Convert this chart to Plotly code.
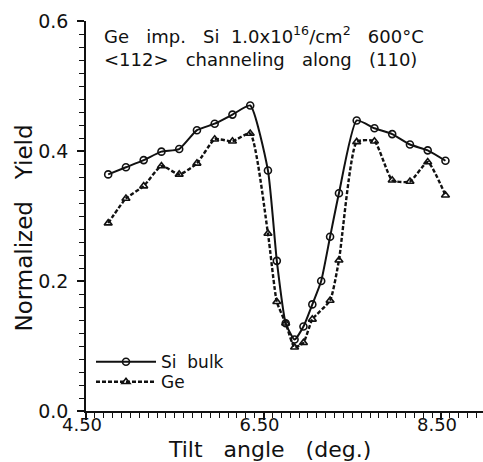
import plotly.graph_objects as go

# Tilt angles (deg.)
si_angle = [4.75, 4.95, 5.15, 5.35, 5.55, 5.75, 5.95, 6.15, 6.35,
            6.55, 6.65, 6.75, 6.85, 6.95, 7.05, 7.15, 7.25, 7.35,
            7.55, 7.75, 7.95, 8.15, 8.35, 8.55]
si_yield = [0.364, 0.375, 0.386, 0.399, 0.403, 0.432, 0.442, 0.456, 0.470,
            0.370, 0.231, 0.135, 0.110, 0.130, 0.164, 0.200, 0.268, 0.335,
            0.447, 0.435, 0.426, 0.410, 0.401, 0.385]

ge_angle = [4.75, 4.95, 5.15, 5.35, 5.55, 5.75, 5.95, 6.15, 6.35,
            6.55, 6.65, 6.75, 6.85, 6.95, 7.05, 7.25, 7.35,
            7.55, 7.75, 7.95, 8.15, 8.35, 8.55]
ge_yield = [0.289, 0.327, 0.346, 0.377, 0.364, 0.381, 0.418, 0.415, 0.427,
            0.273, 0.168, 0.135, 0.098, 0.105, 0.141, 0.170, 0.232,
            0.414, 0.415, 0.355, 0.353, 0.383, 0.332]

x_ticks = [4.5, 6.5, 8.5]
x_ticklabels = ["4.50", "6.50", "8.50"]
y_ticks = [0.0, 0.2, 0.4, 0.6]
y_ticklabels = ["0.0", "0.2", "0.4", "0.6"]

FONT = "DejaVu Sans"
INK = "#111111"

fig = go.Figure()
fig.add_trace(go.Scatter(
    x=si_angle, y=si_yield, mode="lines+markers", name="Si  bulk",
    legend="legend",
    line=dict(color=INK, width=2, shape="spline", smoothing=0.5),
    marker=dict(symbol="circle-open", size=7, color=INK, line=dict(width=1.6)),
))
fig.add_trace(go.Scatter(
    x=ge_angle, y=ge_yield, mode="lines+markers", name="Ge",
    legend="legend2",
    line=dict(color=INK, width=2.4, dash="4px,2px", shape="spline", smoothing=0.5),
    marker=dict(symbol="triangle-up-open", size=7, color=INK, line=dict(width=1.6)),
))

legend_common = dict(xanchor="left", yanchor="middle", bgcolor="rgba(0,0,0,0)",
                     font=dict(size=17), itemwidth=60)

fig.update_layout(
    width=483, height=462,
    margin=dict(l=86, r=0, t=21, b=51),
    paper_bgcolor="white", plot_bgcolor="white",
    font=dict(family=FONT, size=18, color=INK),
    showlegend=True,
    legend=dict(x=0.0126, y=0.125, **legend_common),
    legend2=dict(x=0.0126, y=0.074, **legend_common),
    xaxis=dict(range=[4.5, 8.973], showgrid=False, zeroline=False,
               showline=True, linecolor=INK, linewidth=1.5,
               tickmode="array", tickvals=x_ticks, ticktext=x_ticklabels,
               ticks="outside", ticklen=7, tickwidth=1.5, tickcolor=INK,
               tickfont=dict(size=18), ticklabelshift=-4, ticklabelstandoff=-10,
               minor=dict(dtick=0.1, tick0=4.5, ticks="outside", ticklen=5,
                          tickwidth=1.3, tickcolor=INK)),
    yaxis=dict(range=[0, 0.6], showgrid=False, zeroline=False,
               showline=True, linecolor=INK, linewidth=1.5,
               tickmode="array", tickvals=y_ticks, ticktext=y_ticklabels,
               ticks="outside", ticklen=7, tickwidth=1.5, tickcolor=INK,
               tickfont=dict(size=19), ticklabelstandoff=5,
               minor=dict(dtick=0.02, tick0=0, ticks="outside", ticklen=5,
                          tickwidth=1.3, tickcolor=INK)),
)

fig.add_annotation(xref="paper", yref="paper", x=0.0403, y=0.9290,
                   xanchor="left", yanchor="bottom", showarrow=False,
                   text="Ge   imp.   Si  1.0x10<sup>16</sup>/cm<sup>2</sup>   600°C",
                   font=dict(size=18))
fig.add_annotation(xref="paper", yref="paper", x=0.0403, y=0.9340,
                   xanchor="left", yanchor="top", showarrow=False,
                   text="&lt;112&gt;   channeling   along   (110)",
                   font=dict(size=18))
fig.add_annotation(xref="paper", yref="paper", x=0.462, y=-0.0605,
                   xanchor="center", yanchor="top", showarrow=False,
                   text="Tilt   angle   (deg.)", font=dict(size=22))
fig.add_annotation(xref="paper", yref="paper", x=-0.155, y=0.469,
                   xanchor="center", yanchor="middle", showarrow=False,
                   textangle=-90,
                   text="Normalized   Yield", font=dict(size=23))

fig.write_html(
    "out.html",
    config={"displayModeBar": False},
    post_script="document.body.style.margin='0';"
                "document.documentElement.style.overflow='hidden';",
)
